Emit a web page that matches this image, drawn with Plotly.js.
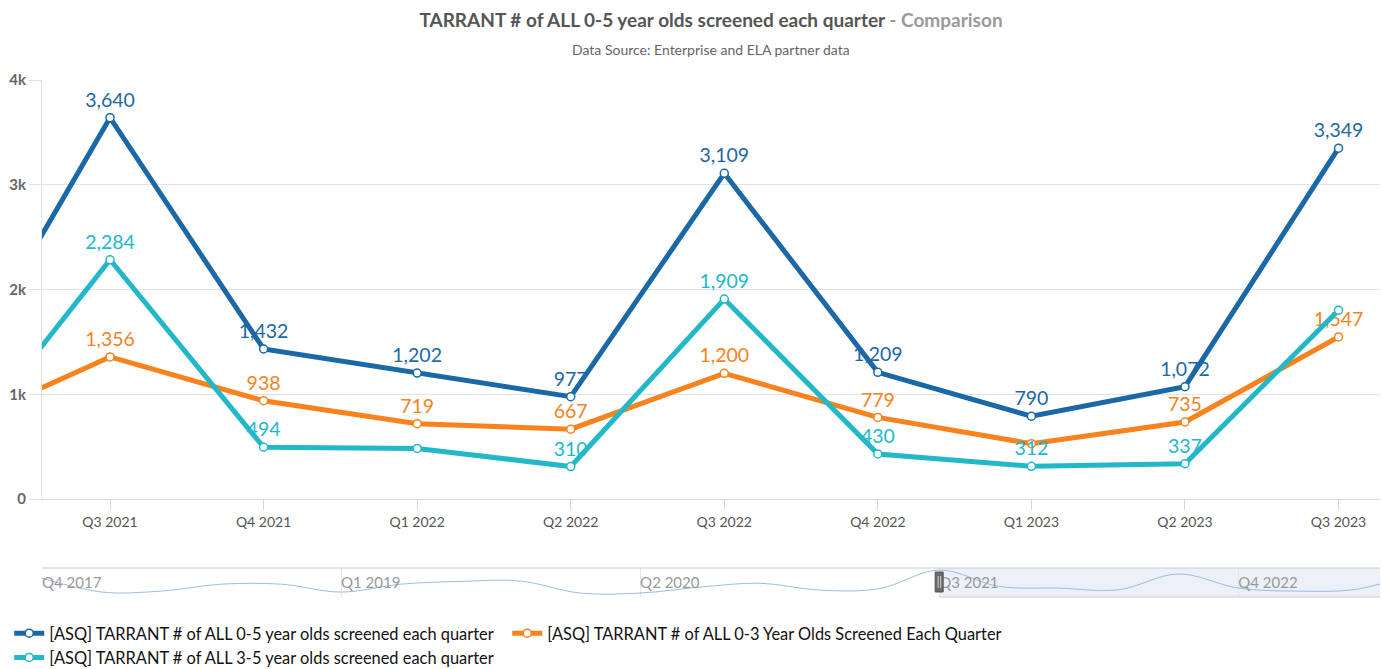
<!DOCTYPE html>
<html>
<head>
<meta charset="utf-8">
<script src="https://cdn.plot.ly/plotly-3.0.1.min.js"></script>
<style>
  html, body { margin: 0; padding: 0; background: #fff; }
  #chart { width: 1382px; height: 669px; }
</style>
</head>
<body>
<div id="chart"></div>
<script>
// ---- Data ----
const quarters = ['Q2 2021','Q3 2021','Q4 2021','Q1 2022','Q2 2022','Q3 2022','Q4 2022','Q1 2023','Q2 2023','Q3 2023'];
const all05 = [1120, 3640, 1432, 1202, 977, 3109, 1209, 790, 1072, 3349];
const all03 = [695, 1356, 938, 719, 667, 1200, 779, 528, 735, 1547];
const all35 = [425, 2284, 494, 483, 310, 1909, 430, 312, 337, 1802];
// which data labels are shown (Highcharts hid overlapping ones)
const show05 = [false, true, true, true, true, true, true, true, true, true];
const show03 = [false, true, true, true, true, true, true, false, true, true];
const show35 = [false, true, true, false, true, true, true, true, true, false];

// navigator history (0-5 series) before Q2 2021
const histQuarters = ['Q4 2017','Q1 2018','Q2 2018','Q3 2018','Q4 2018','Q1 2019','Q2 2019','Q3 2019','Q4 2019','Q1 2020','Q2 2020','Q3 2020','Q4 2020','Q1 2021'];
const histAll05 = [2530, 665, 800, 1730, 1730, 665, 1730, 2100, 2150, 530, 530, 1330, 1860, 930];
const navTickLabels = ['Q4 2017','Q1 2019','Q2 2020','Q3 2021','Q4 2022'];

const navQuarters = histQuarters.concat(quarters);
const navAll05 = histAll05.concat(all05);

const names = [
  '[ASQ] TARRANT # of ALL 0-5 year olds screened each quarter',
  '[ASQ] TARRANT # of ALL 0-3 Year Olds Screened Each Quarter',
  '[ASQ] TARRANT # of ALL 3-5 year olds screened each quarter'
];
const colors = ['#1b68a6', '#f7821e', '#23b8c9'];

const fmt = v => v.toLocaleString('en-US');
const labels = (vals, show) => vals.map((v, i) => show[i] ? fmt(v) : '');

const FONT = 'Lato, "Open Sans", sans-serif';

function lineTrace(vals, show, name, color) {
  return {
    type: 'scatter', mode: 'lines+markers+text',
    x: quarters, y: vals, name: name,
    text: labels(vals, show), textposition: 'top center',
    textfont: { family: FONT, size: 19.5, color: color },
    line: { color: color, width: 5 },
    marker: { size: 8, color: '#ffffff', line: { color: color, width: 1.5 } },
    cliponaxis: false, hoverinfo: 'x+y+name',
    xaxis: 'x', yaxis: 'y'
  };
}

const traces = [
  lineTrace(all05, show05, names[0], colors[0]),
  lineTrace(all03, show03, names[1], colors[1]),
  lineTrace(all35, show35, names[2], colors[2]),
  {
    type: 'scatter', mode: 'lines', x: navQuarters, y: navAll05,
    line: { color: '#9dbde0', width: 1, shape: 'spline', smoothing: 1 },
    showlegend: false, hoverinfo: 'skip', xaxis: 'x2', yaxis: 'y2'
  }
];

const TOP = 80, BOTTOM = 605;       // plot area in page pixels
const H = BOTTOM - TOP;
const py = pix => (BOTTOM - pix) / H;

const layout = {
  width: 1382, height: 669,
  paper_bgcolor: '#ffffff', plot_bgcolor: '#ffffff',
  margin: { l: 42, r: 2, t: TOP, b: 669 - BOTTOM, autoexpand: false },
  font: { family: FONT, color: '#555' },
  title: {
    text: '<b>TARRANT # of ALL 0-5 year olds screened each quarter</b><b><span style="color:#9a9a9a"> - Comparison</span></b>',
    font: { family: FONT, size: 19, color: '#555555' },
    x: 0.5, xanchor: 'center', xref: 'paper',
    y: 1 - 20 / 669, yanchor: 'middle', yref: 'container'
  },
  showlegend: true,
  legend: {
    orientation: 'h', x: -0.0245, xanchor: 'left', y: py(616), yanchor: 'top',
    font: { family: FONT, size: 16.4, color: '#111' },
    traceorder: 'normal', itemclick: false, itemdoubleclick: false,
    entrywidth: 453, entrywidthmode: 'pixels', itemwidth: 30,
    tracegroupgap: 0, bgcolor: 'rgba(0,0,0,0)'
  },
  xaxis: {
    type: 'category', categoryorder: 'array', categoryarray: quarters,
    range: [0.557, 9.27], domain: [0, 1], anchor: 'y',
    showgrid: false, showline: true, linecolor: '#d8d8d8', linewidth: 1,
    ticks: 'outside', ticklen: 10, tickcolor: '#d8d8d8',
    tickfont: { family: FONT, size: 14, color: '#555' },
    zeroline: false, fixedrange: true
  },
  yaxis: {
    range: [0, 4000], domain: [py(499), 1], anchor: 'x',
    tickvals: [0, 1000, 2000, 3000, 4000], tickformat: '~s',
    showgrid: true, gridcolor: '#e3e3e3', gridwidth: 1,
    showline: true, linecolor: '#e3e3e3',
    ticks: 'outside', ticklen: 12, tickcolor: '#e3e3e3',
    tickfont: { family: FONT, size: 15, color: '#666', weight: 'bold' },
    zeroline: false, fixedrange: true
  },
  xaxis2: {
    type: 'category', categoryorder: 'array', categoryarray: navQuarters,
    range: [0, 22.37], domain: [0, 1], anchor: 'y2',
    tickmode: 'array', tickvals: navTickLabels, ticktext: navTickLabels,
    ticklabelposition: 'inside right', ticks: '',
    showgrid: true, gridcolor: '#e6e6e6',
    tickfont: { family: FONT, size: 15, color: '#999' },
    showline: false, zeroline: false, fixedrange: true
  },
  yaxis2: {
    range: [0, 3910], domain: [py(597), py(568)], anchor: 'x2',
    showgrid: false, showticklabels: false, ticks: '', showline: false,
    zeroline: false, fixedrange: true
  },
  annotations: [
    {
      text: 'Data Source: Enterprise and ELA partner data',
      xref: 'paper', yref: 'paper', x: 0.5, y: py(50), xanchor: 'center', yanchor: 'middle',
      showarrow: false, font: { family: FONT, size: 14, color: '#666' }
    }
  ],
  shapes: [
    // navigator selected mask
    { type: 'rect', xref: 'x2', yref: 'paper', x0: 15, x1: 22.37, y0: py(597), y1: py(568),
      fillcolor: 'rgba(102,133,194,0.12)', line: { width: 0 }, layer: 'below' },
    // navigator outline top
    { type: 'line', xref: 'paper', yref: 'paper', x0: 0, x1: 1, y0: py(568), y1: py(568),
      line: { color: '#cccccc', width: 1 } },
    // navigator outline bottom under selection
    { type: 'line', xref: 'x2', yref: 'paper', x0: 15, x1: 22.37, y0: py(597), y1: py(597),
      line: { color: '#cccccc', width: 1 } },
    // left handle
    { type: 'rect', xref: 'x2', yref: 'paper', xsizemode: 'pixel', xanchor: 15, x0: -4, x1: 4,
      y0: py(592), y1: py(572), fillcolor: '#6b6b6b', line: { color: '#555', width: 1 } },
    { type: 'line', xref: 'x2', yref: 'paper', xsizemode: 'pixel', xanchor: 15, x0: -1, x1: -1,
      y0: py(588), y1: py(576), line: { color: '#cfcfcf', width: 1 } },
    { type: 'line', xref: 'x2', yref: 'paper', xsizemode: 'pixel', xanchor: 15, x0: 1.5, x1: 1.5,
      y0: py(588), y1: py(576), line: { color: '#cfcfcf', width: 1 } }
  ]
};

Plotly.newPlot('chart', traces, layout, { displayModeBar: false, responsive: false });
</script>
</body>
</html>
